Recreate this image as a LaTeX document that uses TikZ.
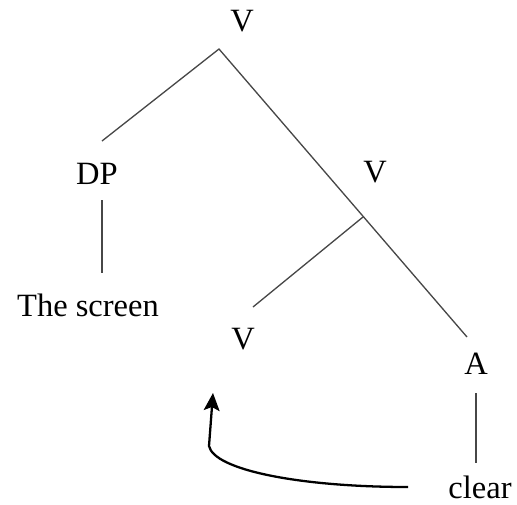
\documentclass[tikz,border=0pt]{standalone}
\usepackage{fontspec}
\setmainfont{Liberation Serif}
\usetikzlibrary{arrows.meta, calc}

\begin{document}
\begin{tikzpicture}[x=0.02cm, y=-0.02cm,
    kat/.style={font=\fontsize{18.5}{20}\selectfont, inner sep=0pt},
    ast/.style={draw=black!72, line width=0.75pt},
    bewegung/.style={draw=black, line width=1.3pt,
      -{Stealth[length=10pt, width=9pt, inset=2pt]}}]
  \useasboundingbox (0,0) rectangle (517,504);

  % Kategorien
  \node[kat] (vtop)   at (242,21)  {V};
  \node[kat] (dp)     at (97,174)  {DP};
  \node[kat] (vmid)   at (375,172) {V};
  \node[kat] (vlow)   at (243,339) {V};
  \node[kat] (a)      at (476,364) {A};

  % Woerter
  \node[kat] (screen) at (88,305)  {The screen};
  \node[kat] (clear)  at (480,487) {clear};

  % Verzweigungspunkte
  \coordinate (vknoten) at (219,49);
  \coordinate (dpende)  at (102,141);
  \coordinate (aende)   at (467,337);
  \coordinate (vmknoten) at (363,217);
  \coordinate (vlende)  at (253,307);
  \coordinate (spur)    at (213,393);

  % Aeste
  \draw[ast] (dpende) -- (vknoten) -- (aende);
  \draw[ast] (vmknoten) -- (vlende);
  \draw[ast] ($(dp.south)+(5,15)$) -- ($(screen.north)+(14,-20)$);
  \draw[ast] ($(a.south)+(0,18)$) -- ($(clear.north)+(-4,-12)$);

  % Bewegung
  \draw[bewegung] ($(clear.west)+(-40,0)$)
    .. controls (300,487) and (214,470) .. (209,446) -- (spur);
\end{tikzpicture}
\end{document}
